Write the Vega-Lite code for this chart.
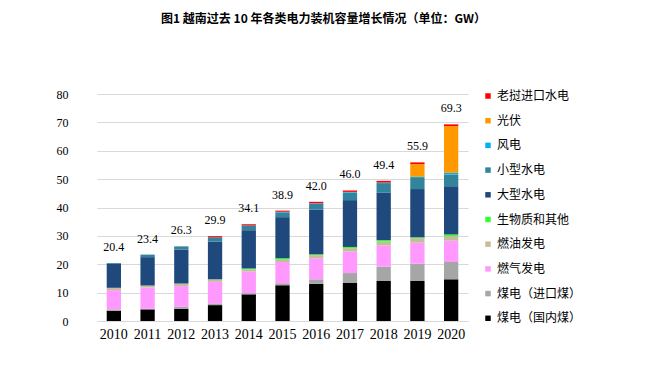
{
  "$schema": "https://vega.github.io/schema/vega-lite/v6.json",
  "autosize": "none",
  "width": 371,
  "height": 227,
  "padding": {"left": 97, "top": 94, "right": 188, "bottom": 53},
  "background": "white",
  "config": {
    "view": {"stroke": null},
    "font": "Liberation Serif",
    "axisY": {
      "values": [0, 10, 20, 30, 40, 50, 60, 70, 80],
      "labelOverlap": false,
      "domain": false, "ticks": false, "gridColor": "#D9D9D9",
      "labelFont": "Liberation Serif", "labelFontSize": 12,
      "labelColor": "#000000", "labelPadding": 29, "title": null
    }
  },
  "title": {
    "text": "图1  越南过去 10 年各类电力装机容量增长情况（单位：GW）",
    "font": "Noto Sans CJK SC",
    "fontSize": 12,
    "fontWeight": "bold",
    "color": "#000000",
    "anchor": "middle",
    "dx": 41,
    "offset": 62
  },
  "datasets": {
    "segments": [
      {"year": "2010", "type": "煤电（国内煤）", "value": 3.6},
      {"year": "2010", "type": "煤电（进口煤）", "value": 0.5},
      {"year": "2010", "type": "燃气发电", "value": 6.8},
      {"year": "2010", "type": "燃油发电", "value": 0.8},
      {"year": "2010", "type": "大型水电", "value": 8.4},
      {"year": "2010", "type": "小型水电", "value": 0.3},
      {"year": "2011", "type": "煤电（国内煤）", "value": 4.1},
      {"year": "2011", "type": "煤电（进口煤）", "value": 0.2},
      {"year": "2011", "type": "燃气发电", "value": 7.5},
      {"year": "2011", "type": "燃油发电", "value": 0.7},
      {"year": "2011", "type": "大型水电", "value": 10.0},
      {"year": "2011", "type": "小型水电", "value": 0.9},
      {"year": "2012", "type": "煤电（国内煤）", "value": 4.3},
      {"year": "2012", "type": "煤电（进口煤）", "value": 0.7},
      {"year": "2012", "type": "燃气发电", "value": 7.3},
      {"year": "2012", "type": "燃油发电", "value": 0.9},
      {"year": "2012", "type": "大型水电", "value": 12.0},
      {"year": "2012", "type": "小型水电", "value": 1.1},
      {"year": "2013", "type": "煤电（国内煤）", "value": 5.6},
      {"year": "2013", "type": "煤电（进口煤）", "value": 0.6},
      {"year": "2013", "type": "燃气发电", "value": 7.6},
      {"year": "2013", "type": "燃油发电", "value": 0.9},
      {"year": "2013", "type": "大型水电", "value": 13.3},
      {"year": "2013", "type": "小型水电", "value": 1.5},
      {"year": "2013", "type": "老挝进口水电", "value": 0.4},
      {"year": "2014", "type": "煤电（国内煤）", "value": 9.4},
      {"year": "2014", "type": "煤电（进口煤）", "value": 0.4},
      {"year": "2014", "type": "燃气发电", "value": 7.6},
      {"year": "2014", "type": "燃油发电", "value": 0.8},
      {"year": "2014", "type": "生物质和其他", "value": 0.3},
      {"year": "2014", "type": "大型水电", "value": 13.5},
      {"year": "2014", "type": "小型水电", "value": 1.7},
      {"year": "2014", "type": "老挝进口水电", "value": 0.4},
      {"year": "2015", "type": "煤电（国内煤）", "value": 12.6},
      {"year": "2015", "type": "煤电（进口煤）", "value": 0.7},
      {"year": "2015", "type": "燃气发电", "value": 7.5},
      {"year": "2015", "type": "燃油发电", "value": 0.8},
      {"year": "2015", "type": "生物质和其他", "value": 0.5},
      {"year": "2015", "type": "大型水电", "value": 14.5},
      {"year": "2015", "type": "小型水电", "value": 1.7},
      {"year": "2015", "type": "风电", "value": 0.2},
      {"year": "2015", "type": "老挝进口水电", "value": 0.4},
      {"year": "2016", "type": "煤电（国内煤）", "value": 13.1},
      {"year": "2016", "type": "煤电（进口煤）", "value": 1.6},
      {"year": "2016", "type": "燃气发电", "value": 7.4},
      {"year": "2016", "type": "燃油发电", "value": 1.1},
      {"year": "2016", "type": "生物质和其他", "value": 0.3},
      {"year": "2016", "type": "大型水电", "value": 15.8},
      {"year": "2016", "type": "小型水电", "value": 2.0},
      {"year": "2016", "type": "风电", "value": 0.2},
      {"year": "2016", "type": "老挝进口水电", "value": 0.5},
      {"year": "2017", "type": "煤电（国内煤）", "value": 13.4},
      {"year": "2017", "type": "煤电（进口煤）", "value": 3.5},
      {"year": "2017", "type": "燃气发电", "value": 7.6},
      {"year": "2017", "type": "燃油发电", "value": 1.2},
      {"year": "2017", "type": "生物质和其他", "value": 0.4},
      {"year": "2017", "type": "大型水电", "value": 16.5},
      {"year": "2017", "type": "小型水电", "value": 2.7},
      {"year": "2017", "type": "风电", "value": 0.2},
      {"year": "2017", "type": "老挝进口水电", "value": 0.5},
      {"year": "2018", "type": "煤电（国内煤）", "value": 14.1},
      {"year": "2018", "type": "煤电（进口煤）", "value": 5.0},
      {"year": "2018", "type": "燃气发电", "value": 7.5},
      {"year": "2018", "type": "燃油发电", "value": 1.4},
      {"year": "2018", "type": "生物质和其他", "value": 0.5},
      {"year": "2018", "type": "大型水电", "value": 16.8},
      {"year": "2018", "type": "小型水电", "value": 3.3},
      {"year": "2018", "type": "风电", "value": 0.2},
      {"year": "2018", "type": "老挝进口水电", "value": 0.6},
      {"year": "2019", "type": "煤电（国内煤）", "value": 14.1},
      {"year": "2019", "type": "煤电（进口煤）", "value": 6.1},
      {"year": "2019", "type": "燃气发电", "value": 7.4},
      {"year": "2019", "type": "燃油发电", "value": 1.6},
      {"year": "2019", "type": "生物质和其他", "value": 0.3},
      {"year": "2019", "type": "大型水电", "value": 17.0},
      {"year": "2019", "type": "小型水电", "value": 3.9},
      {"year": "2019", "type": "风电", "value": 0.4},
      {"year": "2019", "type": "光伏", "value": 4.5},
      {"year": "2019", "type": "老挝进口水电", "value": 0.6},
      {"year": "2020", "type": "煤电（国内煤）", "value": 14.7},
      {"year": "2020", "type": "煤电（进口煤）", "value": 6.1},
      {"year": "2020", "type": "燃气发电", "value": 7.5},
      {"year": "2020", "type": "燃油发电", "value": 1.6},
      {"year": "2020", "type": "生物质和其他", "value": 0.6},
      {"year": "2020", "type": "大型水电", "value": 17.0},
      {"year": "2020", "type": "小型水电", "value": 4.1},
      {"year": "2020", "type": "风电", "value": 0.6},
      {"year": "2020", "type": "光伏", "value": 16.5},
      {"year": "2020", "type": "老挝进口水电", "value": 0.6}
    ],
    "totals": [
      {"year": "2010", "total": 20.4},
      {"year": "2011", "total": 23.4},
      {"year": "2012", "total": 26.3},
      {"year": "2013", "total": 29.9},
      {"year": "2014", "total": 34.1},
      {"year": "2015", "total": 38.9},
      {"year": "2016", "total": 42.0},
      {"year": "2017", "total": 46.0},
      {"year": "2018", "total": 49.4},
      {"year": "2019", "total": 55.9},
      {"year": "2020", "total": 69.3}
    ]
  },
  "layer": [
    {
      "data": {"name": "segments"},
      "transform": [
        {"calculate": "indexof(['煤电（国内煤）','煤电（进口煤）','燃气发电','燃油发电','生物质和其他','大型水电','小型水电','风电','光伏','老挝进口水电'], datum.type)", "as": "rank"}
      ],
      "mark": {"type": "bar"},
      "encoding": {
        "x": {
          "field": "year", "type": "ordinal",
          "scale": {"paddingInner": 0.576, "paddingOuter": 0.288},
          "axis": {
            "title": null, "labelAngle": 0, "ticks": false,
            "domainColor": "#D9D9D9", "labelFont": "Liberation Serif",
            "labelFontSize": 14, "labelColor": "#000000", "labelPadding": 6
          }
        },
        "y": {
          "field": "value", "type": "quantitative", "stack": "zero",
          "scale": {"domain": [0, 80], "nice": false},
          "axis": {"values": [0, 10, 20, 30, 40, 50, 60, 70, 80], "labelOverlap": false}
        },
        "color": {
          "field": "type", "type": "nominal",
          "scale": {
            "domain": ["老挝进口水电", "光伏", "风电", "小型水电", "大型水电", "生物质和其他", "燃油发电", "燃气发电", "煤电（进口煤）", "煤电（国内煤）"],
            "range": ["#FF0000", "#FF9900", "#00B0F0", "#31849B", "#1F497D", "#33FF33", "#C4BD97", "#FF99FF", "#A6A6A6", "#000000"]
          },
          "legend": {
            "title": null, "orient": "none", "legendX": 385, "legendY": -4,
            "symbolType": "square", "symbolSize": 30, "symbolStrokeWidth": 0,
            "labelFont": "Noto Sans CJK SC", "labelFontSize": 12,
            "labelColor": "#000000", "rowPadding": 12.7, "labelOffset": 3,
            "padding": 0
          }
        },
        "order": {"field": "rank", "type": "quantitative"}
      }
    },
    {
      "data": {"name": "totals"},
      "mark": {"type": "text", "baseline": "alphabetic", "dy": -12, "font": "Liberation Serif", "fontSize": 12, "color": "#000000"},
      "encoding": {
        "x": {"field": "year", "type": "ordinal"},
        "y": {"field": "total", "type": "quantitative", "axis": {"values": [0, 10, 20, 30, 40, 50, 60, 70, 80], "labelOverlap": false}},
        "text": {"field": "total", "type": "quantitative", "format": ".1f"}
      }
    }
  ]
}
